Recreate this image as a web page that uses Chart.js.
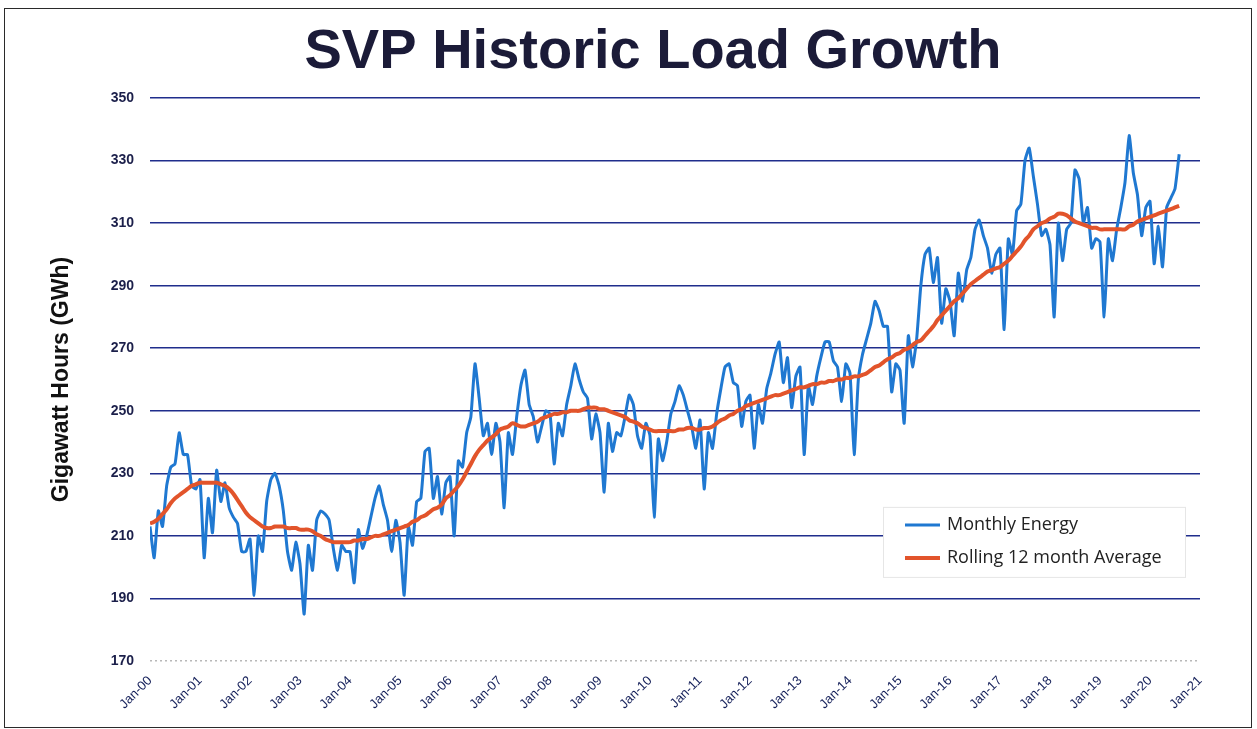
<!DOCTYPE html>
<html>
<head>
<meta charset="utf-8">
<title>SVP Historic Load Growth</title>
<script src="https://cdn.jsdelivr.net/npm/chart.js@4.4.1/dist/chart.umd.min.js"></script>
<style>
    html, body { margin: 0; padding: 0; background: #fff; }
    #wrap { position: relative; width: 1257px; height: 729px; overflow: hidden; }
    #wrap canvas { position: absolute; left: 0; top: 0; }
    #frame {
        position: absolute; left: 4px; top: 8px; width: 1248px; height: 720px;
        border: 1.5px solid #2a2a2a; box-sizing: border-box; pointer-events: none;
    }
</style>
</head>
<body>
<div id="wrap">
    <canvas id="loadChart" width="1257" height="729"></canvas>
    <div id="frame"></div>
</div>
<script>
// x tick labels, one per January (month index 0, 12, 24 ...)
const tickLabels = ["Jan-00", "Jan-01", "Jan-02", "Jan-03", "Jan-04", "Jan-05", "Jan-06",
    "Jan-07", "Jan-08", "Jan-09", "Jan-10", "Jan-11", "Jan-12", "Jan-13", "Jan-14",
    "Jan-15", "Jan-16", "Jan-17", "Jan-18", "Jan-19", "Jan-20", "Jan-21"];

const yTicks = [170, 190, 210, 230, 250, 270, 290, 310, 330, 350];

// Monthly energy (GWh), Jan 2000 .. Aug 2020
const monthlyEnergy = [
    213, 203, 218, 213, 226, 232, 233, 243, 236, 236, 226, 225,  // 2000
    228, 203, 222, 211, 231, 221, 227, 219, 216, 214, 205, 205,  // 2001
    209, 191, 210, 205, 221, 228, 230, 226, 218, 205, 199, 208,  // 2002
    201, 185, 207, 199, 215, 218, 217, 215, 206, 199, 207, 205,  // 2003
    205, 195, 212, 206, 210, 216, 222, 226, 220, 215, 205, 215,  // 2004
    208, 191, 213, 207, 221, 222, 237, 238, 222, 229, 217, 227,  // 2005
    229, 210, 234, 232, 243, 248, 265, 254, 242, 246, 236, 246,  // 2006
    240, 219, 243, 236, 248, 258, 263, 252, 248, 240, 245, 250,  // 2007
    249, 233, 246, 242, 252, 258, 265, 260, 256, 254, 241, 249,  // 2008
    243, 224, 246, 237, 243, 242, 248, 255, 252, 242, 238, 246,  // 2009
    242, 216, 241, 234, 240, 249, 253, 258, 255, 250, 245, 238,  // 2010
    247, 225, 243, 238, 249, 257, 264, 265, 259, 258, 245, 253,  // 2011
    255, 238, 252, 246, 257, 262, 268, 272, 259, 267, 251, 261,  // 2012
    264, 236, 258, 252, 261, 267, 272, 272, 266, 264, 253, 265,  // 2013
    262, 236, 260, 268, 273, 278, 285, 282, 277, 277, 256, 265,  // 2014
    263, 246, 274, 264, 273, 290, 300, 302, 291, 299, 278, 289,  // 2015
    285, 274, 294, 285, 295, 299, 308, 311, 306, 302, 294, 300,  // 2016
    302, 276, 305, 300, 314, 316, 330, 334, 325, 316, 306, 308,  // 2017
    303, 280, 310, 298, 308, 310, 327, 324, 310, 315, 302, 305,  // 2018
    304, 280, 305, 298, 308, 315, 323, 338, 326, 319, 306, 315,  // 2019
    317, 297, 309, 296, 315, 318, 321, 332                       // 2020
];

// Rolling 12 month average (GWh)
const rollingAverage = [
    214, 214.5, 215.5, 217, 218.5, 220.5, 222, 223, 224, 225, 226, 226.5,
    227, 227, 227, 227, 227, 226.5, 226, 225, 223.5, 221.5, 219.5, 217.5,
    216, 215, 214, 213, 212.5, 212.5, 213, 213, 213, 212.5, 212.5, 212.5,
    212, 212, 212, 211.5, 210.5, 210, 209, 208.5, 208, 208, 208, 208,
    208, 208.5, 208.5, 209, 209, 209.5, 210, 210, 210.5, 211, 211.5, 212,
    212.5, 213, 213.5, 214.5, 215, 216, 216.5, 217.5, 218.5, 219, 220, 222,
    223, 224.5, 226, 228, 230.5, 233, 235.5, 237.5, 239, 240.5, 241.5, 242.5,
    244, 244.5, 245, 246, 245.5, 245, 245, 245.5, 246, 246.5, 247.5, 248,
    248.5, 249, 249, 249.5, 249.5, 250, 250, 250, 250.5, 251, 251, 251,
    250.5, 250.5, 250, 249.5, 249, 248.5, 248, 247, 246.5, 246, 245, 244.5,
    244, 243.5, 243.5, 243.5, 243.5, 243.5, 243.5, 244, 244, 244.5, 244.5, 244,
    244, 244.5, 244.5, 245, 246, 247, 247.5, 248.5, 249, 250, 250.5, 251.5,
    252, 252.5, 253, 253.5, 254, 254.5, 255, 255, 255.5, 256, 256.5, 257,
    257.5, 257.5, 258, 258.5, 258.5, 259, 259, 259.5, 259.5, 260, 260, 260.5,
    260.5, 261, 261, 261.5, 262, 263, 264, 264.5, 265.5, 266.5, 267, 268,
    268.5, 269.5, 270, 271, 272, 272.5, 274, 275.5, 277, 279, 280.5, 282,
    283.5, 285, 286, 287.5, 289, 290.5, 291.5, 292.5, 293.5, 294.5, 295, 295.5,
    296, 297, 298, 299.5, 301, 302.5, 304.5, 306, 308, 309, 310, 310.5,
    311.5, 312, 313, 313, 312.5, 311.5, 310.5, 310, 309.5, 309, 308.5, 308.5,
    308, 308, 308, 308, 308, 308, 308, 309, 309.5, 310.5, 311, 311.5,
    312, 312.5, 313, 313.5, 314, 314.5, 315, 315.5
];

const BLUE = "#1f78d1";
const ORANGE = "#e2542b";
const NAVY = "#1f2d8c";

// title centred over the whole page, not only the plot
const pageTitle = {
    id: "pageTitle",
    afterDraw(chart) {
        const c = chart.ctx;
        c.save();
        c.font = "bold 56px 'Liberation Sans', Arial, sans-serif";
        c.fillStyle = "#1b1b38";
        c.textAlign = "center";
        c.textBaseline = "alphabetic";
        c.fillText("SVP Historic Load Growth", 653, 68);
        c.restore();
    }
};

// legend box sitting inside the plot, lower right
const boxLegend = {
    id: "boxLegend",
    afterDatasetsDraw(chart) {
        const c = chart.ctx;
        const area = chart.chartArea;
        const left = area.right - 317;
        const top = chart.scales.y.getPixelForValue(210) - 29;
        c.save();
        c.fillStyle = "#fff";
        c.fillRect(left, top, 302, 70);
        c.strokeStyle = "#e6e6e6";
        c.lineWidth = 1;
        c.strokeRect(left + 0.5, top + 0.5, 302, 70);
        c.font = "18px 'Open Sans', sans-serif";
        c.textBaseline = "middle";
        c.fillStyle = "#222";
        const rows = [chart.data.datasets[0], chart.data.datasets[1]];
        rows.forEach((ds, k) => {
            const y = top + 18 + k * 33;
            c.strokeStyle = ds.borderColor;
            c.lineWidth = k === 0 ? 3 : 4;
            c.beginPath();
            c.moveTo(left + 22, y);
            c.lineTo(left + 57, y);
            c.stroke();
            c.fillText(ds.label, left + 64, y);
        });
        c.restore();
    }
};

const ctx = document.getElementById("loadChart").getContext("2d");

new Chart(ctx, {
    type: "line",
    data: {
        datasets: [{
            label: "Monthly Energy",
            data: monthlyEnergy.map((v, i) => ({ x: i, y: v })),
            borderColor: BLUE,
            borderWidth: 3,
            pointRadius: 0,
            tension: 0.15,
            order: 1
        }, {
            label: "Rolling 12 month Average",
            data: rollingAverage.map((v, i) => ({ x: i, y: v })),
            borderColor: ORANGE,
            borderWidth: 4,
            pointRadius: 0,
            tension: 0.4,
            order: 0
        }]
    },
    options: {
        responsive: false,
        animation: false,
        devicePixelRatio: 1,
        layout: { padding: { top: 98, right: 57, bottom: 0, left: 0 } },
        plugins: {
            legend: { display: false },
            tooltip: { enabled: false },
            title: { display: false }
        },
        scales: {
            x: {
                type: "linear",
                min: 0,
                max: (tickLabels.length - 1) * 12,
                grid: { display: false },
                border: { display: false },
                ticks: {
                    stepSize: 12,
                    autoSkip: false,
                    maxRotation: 45,
                    minRotation: 45,
                    padding: 4,
                    color: "#15205a",
                    font: { family: "'Liberation Sans', Arial, sans-serif", size: 13 },
                    callback: (v) => tickLabels[v / 12]
                },
                afterFit: (scale) => { scale.height = 68; }
            },
            y: {
                min: yTicks[0],
                max: yTicks[yTicks.length - 1],
                afterBuildTicks: (scale) => { scale.ticks = yTicks.map(v => ({ value: v })); },
                ticks: {
                    padding: 16,
                    color: "#1b1f4a",
                    font: { family: "'Liberation Sans', Arial, sans-serif", size: 14, weight: "bold" }
                },
                grid: {
                    drawTicks: false,
                    lineWidth: 1.5,
                    color: (c) => (c.tick && c.tick.value === 170) ? "#b8b8b8" : NAVY
                },
                border: {
                    display: false,
                    dash: (c) => (c.tick && c.tick.value === 170) ? [2, 3] : []
                },
                title: {
                    display: true,
                    text: "Gigawatt Hours (GWh)",
                    color: "#111",
                    font: { family: "'Liberation Sans', Arial, sans-serif", size: 23, weight: "bold" },
                    padding: { top: 48, bottom: 0 }
                },
                afterFit: (scale) => { scale.width = 150; }
            }
        }
    },
    plugins: [pageTitle, boxLegend]
});
</script>
</body>
</html>
